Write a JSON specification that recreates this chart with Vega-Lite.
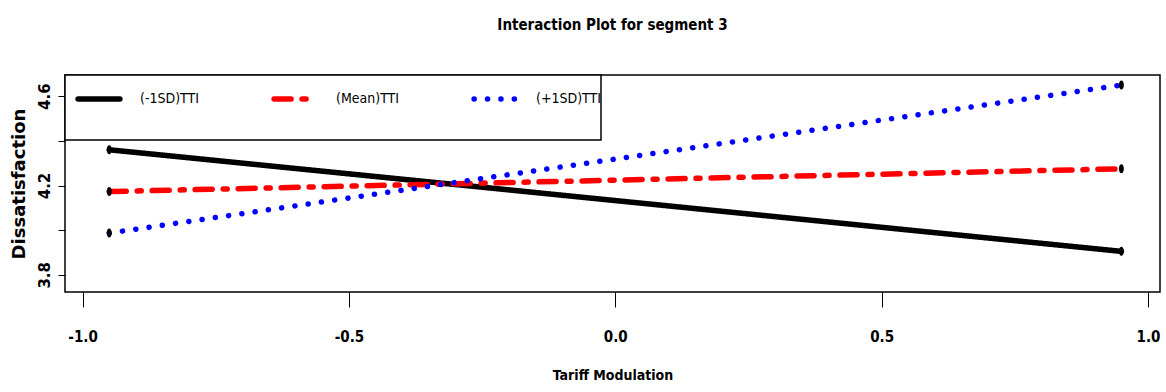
{
  "$schema": "https://vega.github.io/schema/vega-lite/v6.json",
  "width": 1095,
  "height": 217,
  "autosize": {"type": "none"},
  "padding": {"left": 65, "top": 75, "right": 6, "bottom": 100},
  "background": "white",
  "title": {
    "text": "Interaction Plot for segment 3",
    "font": "DejaVu Sans Condensed",
    "fontSize": 15,
    "fontWeight": "bold",
    "color": "black",
    "anchor": "middle",
    "offset": 41
  },
  "config": {
    "view": {"stroke": "black", "strokeWidth": 1.5},
    "axis": {"grid": false, "domain": false, "tickColor": "black", "labelColor": "black", "titleColor": "black"}
  },
  "data": {
    "values": [
      {"tm": -0.95, "dis": 4.36, "series": "(-1SD)TTI"},
      {"tm": 0.95, "dis": 3.905, "series": "(-1SD)TTI"},
      {"tm": -0.95, "dis": 4.173, "series": "(Mean)TTI"},
      {"tm": 0.95, "dis": 4.275, "series": "(Mean)TTI"},
      {"tm": -0.95, "dis": 3.987, "series": "(+1SD)TTI"},
      {"tm": 0.95, "dis": 4.65, "series": "(+1SD)TTI"}
    ]
  },
  "encoding": {
    "x": {
      "field": "tm", "type": "quantitative",
      "scale": {"domain": [-1.033, 1.0225], "nice": false, "zero": false},
      "axis": {
        "title": "Tariff Modulation",
        "values": [-1, -0.5, 0, 0.5, 1],
        "labelExpr": "replace(format(datum.value, '.1f'), '\u2212', '-')",
        "tickSize": 15,
        "tickWidth": 1,
        "labelPadding": 22,
        "labelFont": "DejaVu Sans Condensed",
        "labelFontSize": 15,
        "labelFontWeight": "bold",
        "titleFont": "DejaVu Sans Condensed",
        "titleFontSize": 14,
        "titleFontWeight": "bold",
        "titlePadding": 24
      }
    },
    "y": {
      "field": "dis", "type": "quantitative",
      "scale": {"domain": [3.723, 4.695], "nice": false, "zero": false},
      "axis": {
        "title": "Dissatisfaction",
        "values": [3.8, 4.0, 4.2, 4.4, 4.6],
        "labelExpr": "round(datum.value*10) % 4 == 2 ? format(datum.value, '.1f') : ''",
        "tickSize": 7,
        "tickWidth": 1,
        "labelAngle": -90,
        "labelAlign": "center",
        "labelBaseline": "bottom",
        "labelPadding": 6,
        "labelFont": "DejaVu Sans",
        "labelFontSize": 15,
        "labelFontWeight": "bold",
        "titleFont": "DejaVu Sans",
        "titleFontSize": 18,
        "titleFontWeight": "bold",
        "titlePadding": 9
      }
    }
  },
  "layer": [
    {
      "mark": {"type": "line", "strokeWidth": 5.5, "strokeCap": "round"},
      "encoding": {
        "color": {
          "field": "series", "type": "nominal",
          "scale": {"domain": ["(-1SD)TTI", "(Mean)TTI", "(+1SD)TTI"], "range": ["black", "#ff0000", "#0000ff"]},
          "legend": {
            "title": "\u00a0",
            "titleOrient": "bottom",
            "titleFontSize": 13,
            "titlePadding": 17,
            "orient": "top-left",
            "offset": 0,
            "direction": "horizontal",
            "columns": 3,
            "gridAlign": "each",
            "columnPadding": 62,
            "padding": 0,
            "symbolOffset": 10,
            "symbolType": "stroke",
            "symbolSize": 1750,
            "symbolStrokeWidth": 5.5,
            "labelOffset": 17,
            "labelLimit": 400,
            "labelFont": "DejaVu Sans Condensed",
            "labelFontSize": 14,
            "labelColor": "black",
            "fillColor": "white",
            "strokeColor": "black",
            "encode": {
              "symbols": {"update": {"strokeCap": {"value": "round"}}},
              "legend": {"update": {"strokeWidth": {"value": 1.5}}}
            }
          }
        },
        "strokeDash": {
          "field": "series", "type": "nominal",
          "scale": {"domain": ["(-1SD)TTI", "(Mean)TTI", "(+1SD)TTI"], "range": [[1, 0], [17, 11, 4, 11], [0.1, 13.3]]}
        }
      }
    },
    {
      "mark": {"type": "point", "filled": true, "color": "black", "opacity": 1, "size": 81, "shape": "M0,-1A0.55,1,0,1,1,0,1A0.55,1,0,1,1,0,-1Z"},
      "encoding": {"detail": {"field": "series", "type": "nominal"}}
    }
  ]
}
